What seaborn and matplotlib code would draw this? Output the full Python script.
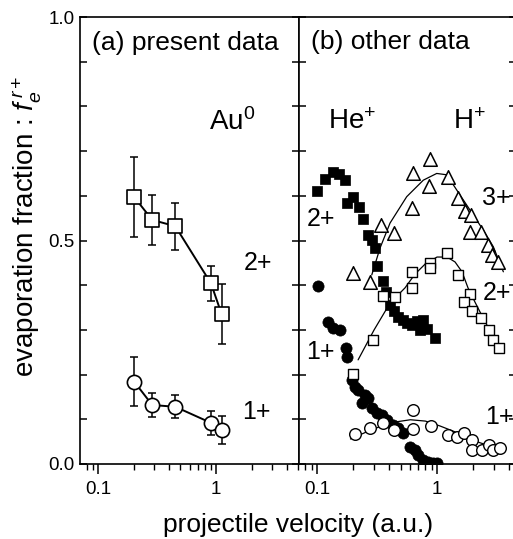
import numpy as np
import pandas as pd
import matplotlib
matplotlib.use("Agg")
import matplotlib.pyplot as plt
import seaborn as sns
from matplotlib.ticker import FixedLocator, FuncFormatter, LogLocator, NullFormatter

# ---------------- data: panel (a) present data (Au0) ----------------
a_v = [0.203, 0.288, 0.452, 0.907, 1.117]
a_2p = [0.597, 0.546, 0.532, 0.404, 0.335]
a_2p_err = [0.090, 0.055, 0.053, 0.040, 0.067]
a_1p = [0.184, 0.132, 0.128, 0.092, 0.076]
a_1p_err = [0.055, 0.026, 0.026, 0.027, 0.031]

# ---------------- data: panel (b) other data ----------------
# He+ projectile, 2+ (filled squares)
he2_v = [0.100, 0.117, 0.136, 0.153, 0.171, 0.178, 0.200, 0.224, 0.242, 0.266,
         0.287, 0.304, 0.316, 0.355, 0.376, 0.406, 0.438, 0.473, 0.521, 0.562,
         0.619, 0.681, 0.764, 0.722, 0.826, 0.962]
he2_f = [0.611, 0.638, 0.653, 0.649, 0.635, 0.584, 0.597, 0.575, 0.548, 0.512,
         0.501, 0.483, 0.443, 0.409, 0.385, 0.356, 0.342, 0.329, 0.322, 0.315,
         0.311, 0.320, 0.322, 0.300, 0.302, 0.282]
# He+ projectile, 1+ (filled circles)
he1_v = [0.101, 0.124, 0.137, 0.155, 0.175, 0.179, 0.195, 0.207, 0.221, 0.236,
         0.251, 0.268, 0.286, 0.314, 0.346, 0.381, 0.432, 0.476, 0.518, 0.596,
         0.656, 0.699, 0.769, 0.846, 0.931, 0.994]
he1_f = [0.398, 0.318, 0.304, 0.300, 0.259, 0.240, 0.188, 0.172, 0.166, 0.136,
         0.154, 0.147, 0.125, 0.113, 0.110, 0.098, 0.087, 0.080, 0.069, 0.039,
         0.031, 0.020, 0.009, 0.005, 0.002, 0.003]
# H+ projectile, 3+ (open triangles)
h3_v = [0.198, 0.277, 0.341, 0.442, 0.619, 0.625, 0.863, 0.866, 1.223, 1.482,
        1.711, 1.920, 1.884, 2.327, 2.661, 2.873, 3.222]
h3_f = [0.427, 0.408, 0.535, 0.517, 0.573, 0.650, 0.621, 0.682, 0.642, 0.596,
        0.567, 0.556, 0.519, 0.518, 0.490, 0.468, 0.452]
h3_fit_v = [0.286, 0.335, 0.406, 0.559, 0.769, 0.994, 1.205, 1.459, 1.884, 2.432, 2.945, 3.57]
h3_fit_f = [0.423, 0.483, 0.539, 0.598, 0.635, 0.650, 0.647, 0.613, 0.568, 0.523, 0.486, 0.430]
# H+ projectile, 2+ (open squares)
h2_v = [0.201, 0.291, 0.352, 0.447, 0.616, 0.616, 0.866, 0.875, 1.212, 1.505,
        1.884, 1.679, 1.945, 2.327, 2.702, 2.945, 3.285]
h2_f = [0.201, 0.277, 0.376, 0.374, 0.394, 0.430, 0.450, 0.438, 0.471, 0.422,
        0.381, 0.362, 0.342, 0.326, 0.300, 0.277, 0.259]
h2_fit_v = [0.220, 0.299, 0.406, 0.541, 0.656, 0.794, 1.0, 1.212, 1.413, 1.615,
            1.812, 2.073, 2.417, 2.766, 3.35]
h2_fit_f = [0.233, 0.300, 0.360, 0.394, 0.425, 0.447, 0.463, 0.463, 0.452, 0.430,
            0.394, 0.362, 0.327, 0.298, 0.255]
# H+ projectile, 1+ (open circles)
h1_v = [0.207, 0.277, 0.353, 0.438, 0.627, 0.627, 0.886, 1.242, 1.459, 1.679,
        1.945, 1.945, 2.357, 2.728, 2.945, 3.35]
h1_f = [0.067, 0.081, 0.091, 0.076, 0.121, 0.078, 0.086, 0.065, 0.061, 0.069,
        0.054, 0.031, 0.031, 0.043, 0.031, 0.035]
h1_fit_v = [0.19, 0.26, 0.33, 0.45, 0.60, 0.80, 1.06, 1.41, 1.79, 2.31, 3.0]
h1_fit_f = [0.056, 0.072, 0.083, 0.094, 0.099, 0.096, 0.085, 0.072, 0.058, 0.047, 0.038]

y_labels = {0.0: "0.0", 0.5: "0.5", 1.0: "1.0"}

# ---------------- style ----------------
sns.set_theme(style="ticks")
plt.rcParams["font.family"] = ["Liberation Sans", "DejaVu Sans"]
plt.rcParams["mathtext.fontset"] = "custom"
plt.rcParams["mathtext.rm"] = "Liberation Sans"
plt.rcParams["mathtext.it"] = "Liberation Sans:italic"
plt.rcParams["axes.linewidth"] = 1.2
plt.rcParams["axes.edgecolor"] = "black"
plt.rcParams["text.color"] = "black"
plt.rcParams["axes.labelcolor"] = "black"
plt.rcParams["xtick.color"] = "black"
plt.rcParams["ytick.color"] = "black"

W, H = 513, 539
fig = plt.figure(figsize=(W / 100, H / 100), dpi=100)
axa = fig.add_axes([80 / W, (H - 464) / H, 219 / W, 447 / H])
axb = fig.add_axes([299 / W, (H - 464) / H, 217 / W, 447 / H])

FS = 19
TICK_FS = 13.5

def style_axis(ax, xlim, show_ylabels):
    ax.set_xscale("log")
    ax.set_xlim(*xlim)
    ax.set_ylim(0, 1.0)
    ax.yaxis.set_major_locator(FixedLocator(np.round(np.arange(0, 1.01, 0.1), 2)))
    if show_ylabels:
        ax.yaxis.set_major_formatter(FuncFormatter(lambda v, p: y_labels.get(round(v, 2), "")))
    else:
        ax.yaxis.set_major_formatter(NullFormatter())
    ax.xaxis.set_major_locator(FixedLocator([0.1, 1]))
    ax.xaxis.set_major_formatter(FuncFormatter(lambda v, p: "0.1" if abs(v - 0.1) < 1e-9 else "1"))
    ax.xaxis.set_minor_locator(LogLocator(base=10, subs=np.arange(2, 10)))
    ax.xaxis.set_minor_formatter(NullFormatter())
    ax.tick_params(axis="y", which="both", direction="in", left=True, right=True,
                   length=5, width=1.1, labelsize=TICK_FS, colors="black", pad=4)
    ax.tick_params(axis="x", which="major", direction="out", bottom=True, top=False,
                   length=7, width=1.1, labelsize=TICK_FS, colors="black", pad=5)
    ax.tick_params(axis="x", which="minor", direction="out", bottom=True, top=False,
                   length=4, width=1.0, colors="black")
    for s in ax.spines.values():
        s.set_visible(True)
        s.set_color("black")
        s.set_linewidth(1.2)
    ax.set_xlabel("")
    ax.set_ylabel("")
    ax.grid(False)

# ---------------- panel (a) ----------------
dfa = pd.DataFrame({"v": a_v, "f2": a_2p, "e2": a_2p_err, "f1": a_1p, "e1": a_1p_err})
for fcol, ecol, mk in (("f2", "e2", "s"), ("f1", "e1", "o")):
    axa.errorbar(dfa["v"], dfa[fcol], yerr=dfa[ecol], fmt="none", ecolor="black",
                 elinewidth=1.1, capsize=2.8, capthick=1.1, zorder=1)
    sns.lineplot(data=dfa, x="v", y=fcol, ax=axa, color="black", linewidth=1.4,
                 sort=False, estimator=None, zorder=2)
    sns.scatterplot(data=dfa, x="v", y=fcol, ax=axa, marker=mk, s=105,
                    facecolor="white", edgecolor="black", linewidth=1.2, zorder=3)
style_axis(axa, (0.0704, 5.05), True)

def atxt(px, py, s, fs=FS):
    axa.text((px - 80) / 219, 1 - (py - 17) / 447, s, transform=axa.transAxes,
             fontsize=fs, ha="left", va="center", color="black")

atxt(92, 43, "(a) present data")
atxt(209, 122, "Au$^{0}$", FS + 1)
atxt(244, 263, "2+", FS - 1)
atxt(242, 412, "1+", FS - 1)

# ---------------- panel (b) ----------------
def df(x, y):
    return pd.DataFrame({"v": x, "f": y})

for fx, fy in ((h3_fit_v, h3_fit_f), (h2_fit_v, h2_fit_f), (h1_fit_v, h1_fit_f)):
    sns.lineplot(data=df(fx, fy), x="v", y="f", ax=axb, color="black", linewidth=0.9,
                 sort=False, estimator=None, zorder=1)

sns.scatterplot(data=df(he2_v, he2_f), x="v", y="f", ax=axb, marker="s", s=55,
                color="black", edgecolor="black", linewidth=0.5, zorder=3)
sns.scatterplot(data=df(he1_v, he1_f), x="v", y="f", ax=axb, marker="o", s=65,
                color="black", edgecolor="black", linewidth=0.5, zorder=3)
sns.scatterplot(data=df(h3_v, h3_f), x="v", y="f", ax=axb, marker="^", s=95,
                facecolor="white", edgecolor="black", linewidth=1.1, zorder=4)
sns.scatterplot(data=df(h2_v, h2_f), x="v", y="f", ax=axb, marker="s", s=55,
                facecolor="white", edgecolor="black", linewidth=1.0, zorder=4)
sns.scatterplot(data=df(h1_v, h1_f), x="v", y="f", ax=axb, marker="o", s=70,
                facecolor="white", edgecolor="black", linewidth=1.0, zorder=4)
style_axis(axb, (0.0708, 4.55), False)

def btxt(px, py, s, fs=FS):
    axb.text((px - 299) / 217, 1 - (py - 17) / 447, s, transform=axb.transAxes,
             fontsize=fs, ha="left", va="center", color="black")

btxt(311, 42, "(b) other data")
btxt(328, 122, "He$^{+}$", FS + 1)
btxt(453, 122, "H$^{+}$", FS + 1)
btxt(482, 198, "3+", FS - 1)
btxt(307, 219, "2+", FS - 1)
btxt(483, 293, "2+", FS - 1)
btxt(306, 352, "1+", FS - 1)
btxt(485, 417, "1+", FS - 1)

# ---------------- axis titles ----------------
fig.text(298 / W, 1 - 525 / H, "projectile velocity (a.u.)", fontsize=FS,
         ha="center", va="center", color="black")
fig.text(27 / W, 1 - 226 / H, r"evaporation fraction : $f_{e}^{\,r+}$", fontsize=FS + 1,
         ha="center", va="center", rotation=90, color="black")

fig.savefig("out.png", dpi=100)
